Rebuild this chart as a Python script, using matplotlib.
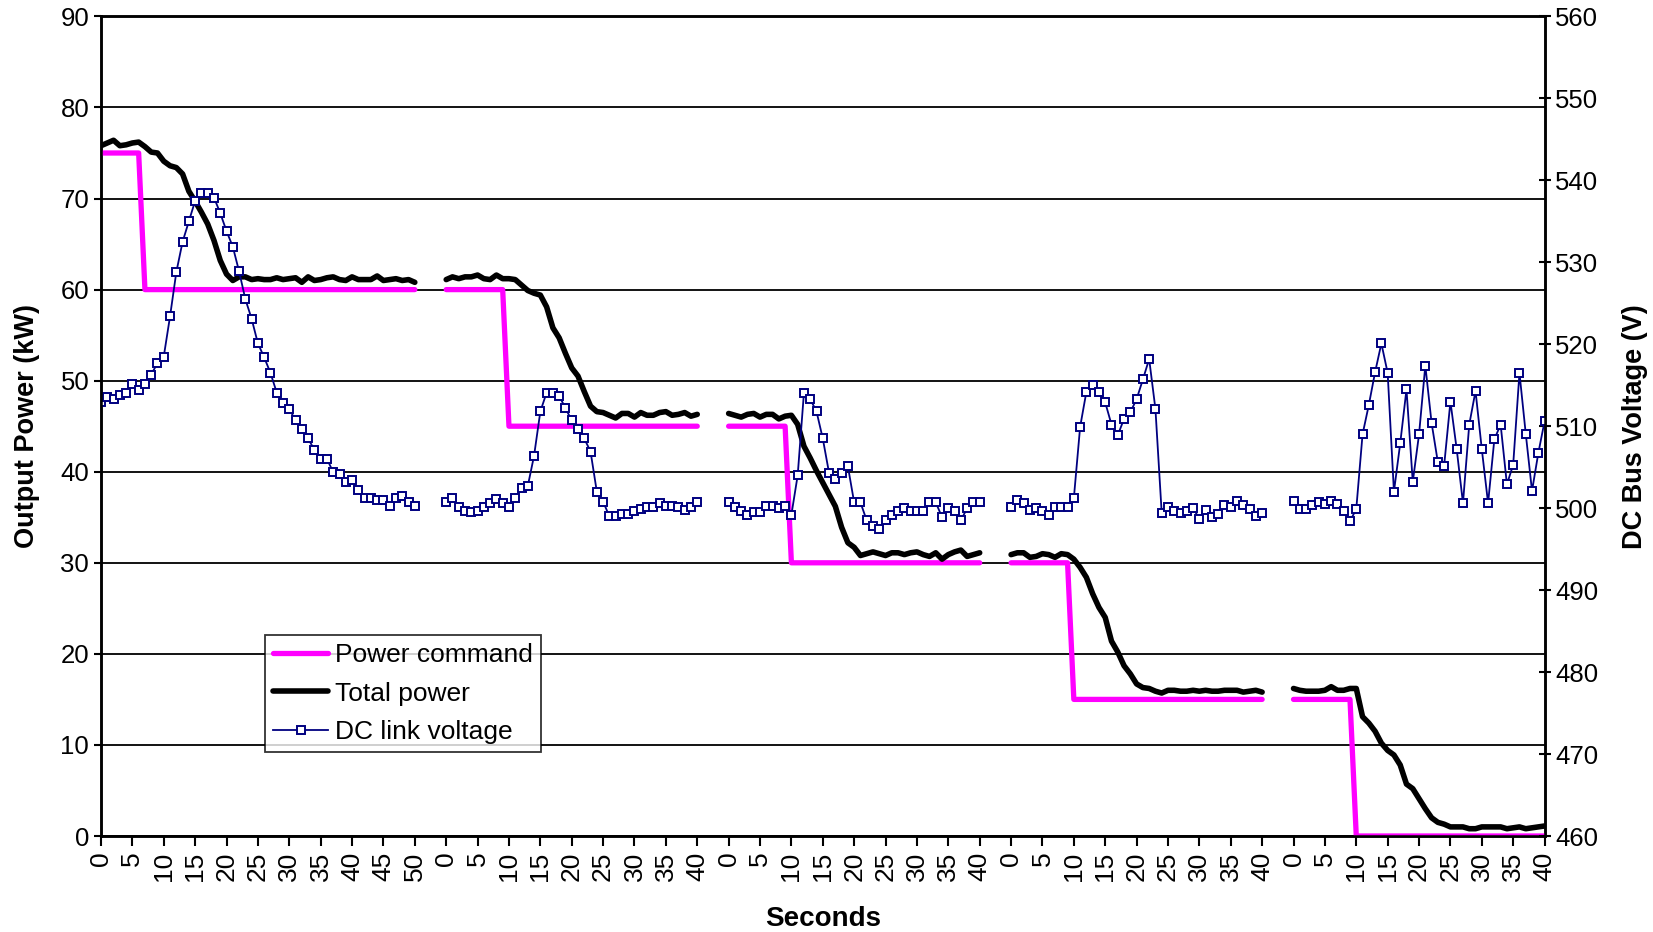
import numpy as np
import matplotlib.pyplot as plt

plt.rcParams['font.family'] = ['Liberation Sans', 'DejaVu Sans']

# five test runs, one sample per second, blank categories between runs
seg_seconds = [50, 40, 40, 40, 40]
gap = 4

# power command (kW)
cmd = [
    [75] * 7 + [60] * 44,
    [60] * 10 + [45] * 31,
    [45] * 10 + [30] * 31,
    [30] * 10 + [15] * 31,
    [15] * 10 + [0] * 31,
]

# total power (kW)
total = [
    [75.8, 76.1, 76.4, 75.8, 75.9, 76.1, 76.2, 75.7, 75.1, 75.0,
     74.1, 73.6, 73.4, 72.7, 70.8, 69.7, 68.5, 67.2, 65.4, 63.2,
     61.7, 61.0, 61.4, 61.4, 61.1, 61.2, 61.1, 61.1, 61.3, 61.1,
     61.2, 61.3, 60.8, 61.4, 61.0, 61.1, 61.3, 61.4, 61.1, 61.0,
     61.4, 61.1, 61.1, 61.1, 61.5, 61.0, 61.1, 61.2, 61.0, 61.1, 60.8],
    [61.1, 61.4, 61.2, 61.4, 61.4, 61.6, 61.2, 61.1, 61.6, 61.2,
     61.2, 61.1, 60.5, 59.9, 59.6, 59.4, 58.1, 55.8, 54.7, 53.0,
     51.4, 50.5, 48.8, 47.2, 46.6, 46.5, 46.2, 45.9, 46.4, 46.4,
     46.0, 46.5, 46.2, 46.2, 46.5, 46.6, 46.2, 46.3, 46.5, 46.1, 46.3],
    [46.4, 46.2, 46.0, 46.3, 46.4, 46.0, 46.3, 46.3, 45.8, 46.1,
     46.2, 45.2, 42.8, 41.5, 40.1, 38.8, 37.5, 36.2, 33.9, 32.2,
     31.7, 30.8, 31.0, 31.2, 31.0, 30.8, 31.1, 31.1, 30.9, 31.1,
     31.2, 30.9, 30.7, 31.1, 30.4, 30.9, 31.2, 31.4, 30.7, 30.9, 31.1],
    [30.9, 31.1, 31.1, 30.6, 30.7, 31.0, 30.9, 30.6, 31.0, 30.9,
     30.4, 29.5, 28.4, 26.6, 25.1, 24.0, 21.4, 20.2, 18.7, 17.8,
     16.7, 16.3, 16.2, 15.9, 15.7, 16.0, 16.0, 15.9, 15.9, 16.0,
     15.9, 16.0, 15.9, 15.9, 16.0, 16.0, 16.0, 15.8, 15.9, 16.0, 15.8],
    [16.2, 16.0, 15.9, 15.9, 15.9, 16.0, 16.4, 16.0, 16.0, 16.2,
     16.2, 13.1, 12.4, 11.5, 10.2, 9.4, 8.9, 7.8, 5.7, 5.2,
     4.1, 3.0, 2.0, 1.5, 1.3, 1.0, 1.0, 1.0, 0.8, 0.8,
     1.0, 1.0, 1.0, 1.0, 0.8, 0.9, 1.0, 0.8, 0.9, 1.0, 1.1],
]

# DC link voltage (V)
volt = [
    [512.9, 513.6, 513.3, 513.8, 514.1, 515.1, 514.4, 515.2, 516.3, 517.7,
     518.5, 523.4, 528.8, 532.5, 535.0, 537.5, 538.4, 538.4, 537.9, 536.0,
     533.8, 531.9, 528.9, 525.5, 523.1, 520.1, 518.4, 516.5, 514.1, 512.8,
     512.1, 510.7, 509.7, 508.5, 507.1, 506.0, 506.0, 504.4, 504.2, 503.2,
     503.4, 502.2, 501.2, 501.3, 501.0, 501.0, 500.3, 501.2, 501.5, 500.8, 500.3],
    [500.8, 501.3, 500.1, 499.7, 499.5, 499.7, 500.2, 500.6, 501.1, 500.6,
     500.2, 501.3, 502.4, 502.7, 506.4, 511.8, 514.1, 514.1, 513.7, 512.2,
     510.7, 509.7, 508.5, 506.9, 502.0, 500.8, 499.0, 499.0, 499.3, 499.3,
     499.6, 499.9, 500.1, 500.2, 500.6, 500.3, 500.3, 500.2, 499.8, 500.1, 500.7],
    [500.7, 500.2, 499.7, 499.2, 499.5, 499.5, 500.3, 500.3, 500.0, 500.3,
     499.2, 504.0, 514.1, 513.3, 511.8, 508.5, 504.3, 503.5, 504.3, 505.1,
     500.7, 500.7, 498.5, 497.8, 497.4, 498.5, 499.2, 499.7, 500.0, 499.7,
     499.7, 499.7, 500.7, 500.7, 498.9, 500.0, 499.7, 498.5, 500.0, 500.7, 500.7],
    [500.1, 501.0, 500.6, 499.8, 500.0, 499.7, 499.2, 500.1, 500.1, 500.1,
     501.2, 509.9, 514.2, 515.0, 514.2, 512.9, 510.2, 508.9, 510.9, 511.7,
     513.3, 515.7, 518.2, 512.1, 499.4, 500.2, 499.6, 499.4, 499.6, 500.0,
     498.7, 499.8, 498.9, 499.3, 500.4, 500.1, 500.9, 500.4, 499.9, 499.1, 499.4],
    [500.9, 499.9, 499.9, 500.4, 500.7, 500.5, 500.9, 500.5, 499.7, 498.4,
     499.9, 509.0, 512.6, 516.6, 520.1, 516.5, 502.0, 507.9, 514.5, 503.2,
     509.0, 517.4, 510.4, 505.6, 505.2, 513.0, 507.2, 500.6, 510.2, 514.3,
     507.2, 500.6, 508.4, 510.2, 502.9, 505.3, 516.5, 509.1, 502.1, 506.7, 510.6],
]

fig = plt.figure(figsize=(16.53, 9.32), dpi=100)
ax = fig.add_axes([0.0611, 0.103, 0.8733, 0.8794])
ax2 = ax.twinx()

tick_pos = []
tick_lab = []
start = 0
for k, n in enumerate(seg_seconds):
    x = np.arange(start, start + n + 1)
    l1, = ax.plot(x, cmd[k], color='#ff00ff', lw=3.8, solid_capstyle='round',
                  solid_joinstyle='round', zorder=3)
    l2, = ax.plot(x, total[k], color='black', lw=4.0, solid_capstyle='round',
                  solid_joinstyle='round', zorder=4)
    l3, = ax2.plot(x, volt[k], color='#000080', lw=1.3, marker='s', ms=6,
                   mfc='white', mec='#000080', mew=1.4)
    for s in range(0, n + 1, 5):
        tick_pos.append(start + s)
        tick_lab.append(str(s))
    start += n + 1 + gap

ax.set_xlim(0, tick_pos[-1])
ax.set_ylim(0, 90)
ax.set_yticks(range(0, 91, 10))
ax2.set_ylim(460, 560)
ax2.set_yticks(range(460, 561, 10))
ax.set_xticks(tick_pos)
ax.set_xticklabels(tick_lab, rotation=90, fontsize=19)
ax.yaxis.grid(True, color='black', lw=1.3)
ax.set_axisbelow(True)

ax.tick_params(axis='y', direction='out', length=5, width=1.5, labelsize=18.5)
ax.tick_params(axis='x', direction='out', length=7, width=1.5, pad=4)
ax2.tick_params(axis='y', direction='inout', length=8, width=1.5, labelsize=18.5)
for a in (ax, ax2):
    for sp in a.spines.values():
        sp.set_linewidth(1.8)

ax.set_ylabel('Output Power (kW)', fontsize=19.5, fontweight='bold', labelpad=15)
ax2.set_ylabel('DC Bus Voltage (V)', fontsize=19.5, fontweight='bold', labelpad=17)
ax.set_xlabel('Seconds', fontsize=20, fontweight='bold', labelpad=18)

leg = ax2.legend([l1, l2, l3], ['Power command', 'Total power', 'DC link voltage'],
                 loc='lower left', bbox_to_anchor=(0.1136, 0.1025), borderaxespad=0,
                 fontsize=19, frameon=True, fancybox=False, edgecolor='black',
                 handlelength=2.1, handletextpad=0.25, labelspacing=0.55,
                 borderpad=0.3, numpoints=1)
leg.get_frame().set_linewidth(1.3)

fig.savefig('out.png', dpi=100)
